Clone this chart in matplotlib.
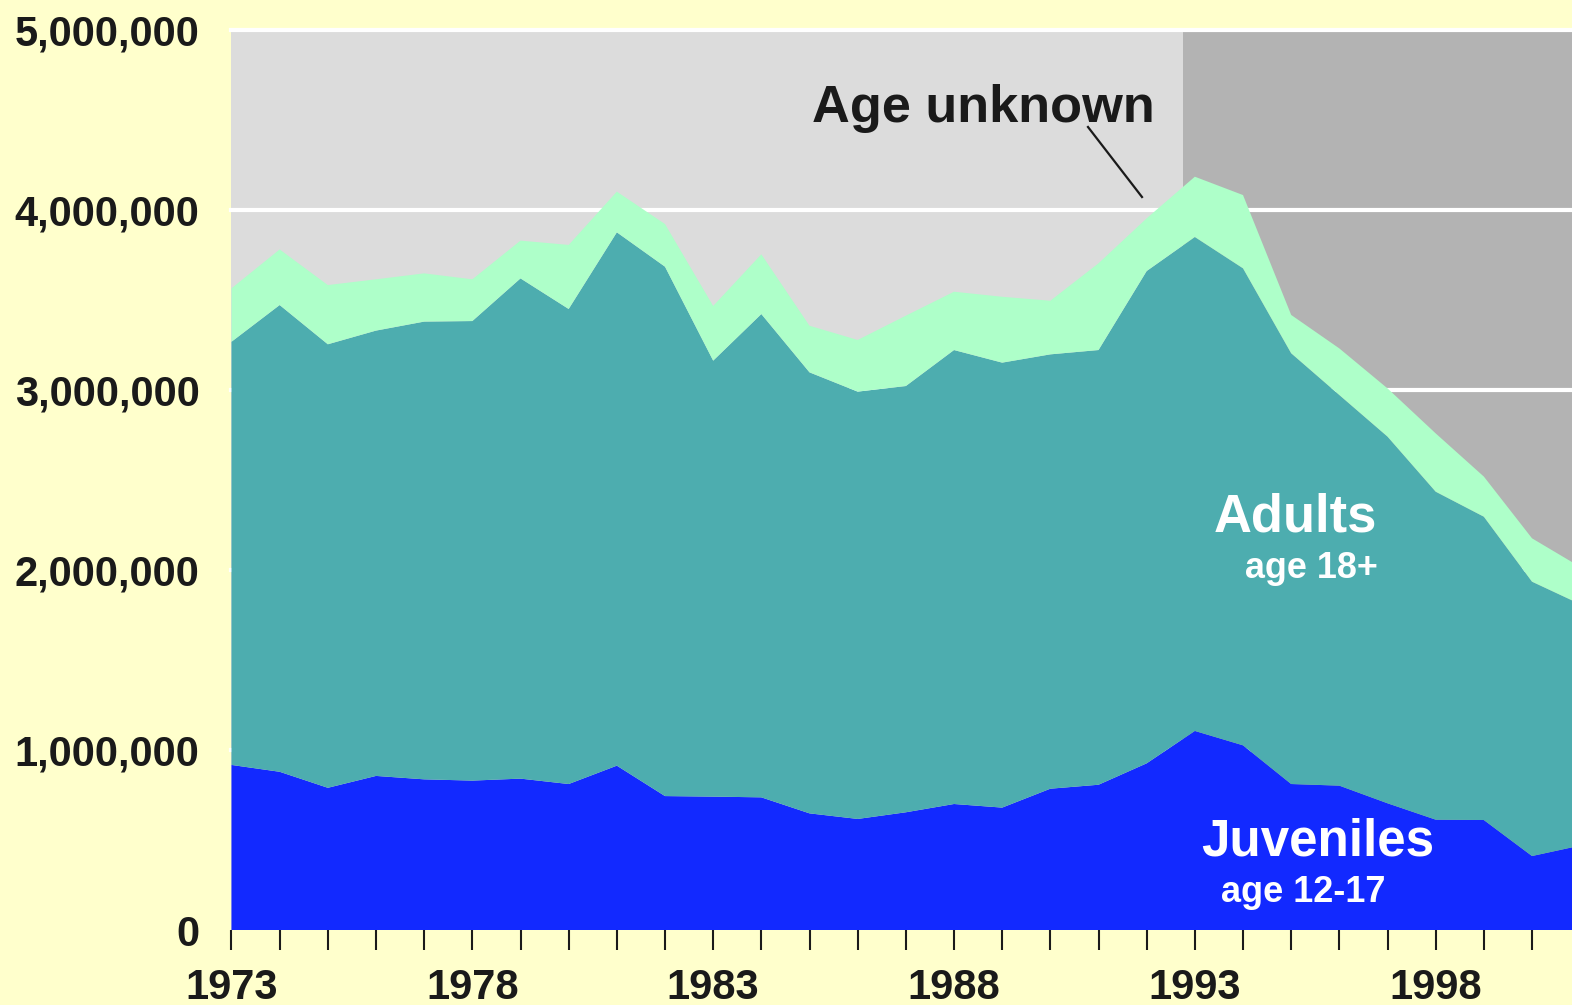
import matplotlib
matplotlib.use("Agg")
from matplotlib import pyplot as plt
from matplotlib.ticker import FuncFormatter, MultipleLocator
from matplotlib.lines import Line2D

# arrests by age group, 1973-2001
years = list(range(1973, 2002))
juveniles = [917000, 879000, 790000, 856000, 837000, 830000, 841000, 811000,
             913000, 744000, 741000, 737000, 648000, 617000, 654000, 700000,
             680000, 785000, 807000, 926000, 1106000, 1026000, 811000, 802000,
             704000, 613000, 611000, 411000, 469000]
adults = [2351000, 2593000, 2464000, 2474000, 2543000, 2553000, 2779000, 2639000,
          2963000, 2941000, 2422000, 2685000, 2450000, 2374000, 2368000, 2522000,
          2472000, 2413000, 2415000, 2735000, 2744000, 2650000, 2393000, 2170000,
          2037000, 1822000, 1685000, 1524000, 1341000]
age_unknown = [297000, 309000, 329000, 285000, 268000, 232000, 210000, 356000,
               226000, 237000, 304000, 332000, 259000, 287000, 391000, 324000,
               366000, 298000, 482000, 293000, 335000, 407000, 213000, 259000,
               268000, 324000, 223000, 241000, 207000]
y_ticks = [0, 1000000, 2000000, 3000000, 4000000, 5000000]
x_labels = [1973, 1978, 1983, 1988, 1993, 1998]

bg = '#FFFFCC'
txt = '#1a1a1a'
fnt = ['Liberation Sans', 'DejaVu Sans']

fig = plt.figure(figsize=(15.72, 10.05), dpi=100, facecolor=bg)
ax = fig.add_axes([231.5 / 1572, 75 / 1005, 1 - 231.5 / 1572, 900 / 1005])
ax.set_facecolor('#DCDCDC')
ax.set_xlim(1973, 2000.83)
ax.set_ylim(0, 5000000)

# darker shading for the later years
ax.axvspan(1992.75, 2002, color='#B3B3B3', zorder=0, lw=0)
for v in y_ticks[1:]:
    ax.axhline(v, color='white', lw=3, zorder=1, clip_on=False)

ax.stackplot(years, juveniles, adults, age_unknown,
             colors=['#1229FF', '#4DADAF', '#AEFFC9'], zorder=2, lw=0)

for s in ax.spines.values():
    s.set_visible(False)

ax.xaxis.set_major_locator(MultipleLocator(1))
ax.xaxis.set_major_formatter(FuncFormatter(
    lambda v, p: str(int(round(v))) if int(round(v)) in x_labels else ''))
ax.set_yticks(y_ticks)
ax.yaxis.set_major_formatter(FuncFormatter(lambda v, p: '{:,.0f}'.format(v)))
ax.tick_params(axis='x', direction='out', length=14.5, width=1.5, color=txt,
               pad=13, labelsize=30, labelcolor=txt)
ax.tick_params(axis='y', length=0, pad=23, labelsize=30, labelcolor=txt)
for lab in ax.get_xticklabels() + ax.get_yticklabels():
    lab.set_fontweight('bold')
    lab.set_family(fnt)

fig.text(812 / 1572, 1 - 122 / 1005, 'Age unknown', ha='left', va='baseline',
         fontsize=37.7, fontweight='bold', color=txt, family=fnt)
fig.add_artist(Line2D([1088 / 1572, 1142 / 1572], [1 - 127 / 1005, 1 - 197 / 1005],
                      color=txt, lw=1.6))
fig.text(1214 / 1572, 1 - 532 / 1005, 'Adults', ha='left', va='baseline',
         fontsize=37.8, fontweight='bold', color='white', family=fnt)
fig.text(1245 / 1572, 1 - 578 / 1005, 'age 18+', ha='left', va='baseline',
         fontsize=25.8, fontweight='bold', color='white', family=fnt)
fig.text(1201 / 1572, 1 - 855 / 1005, 'Juveniles', ha='left', va='baseline',
         fontsize=36.8, fontweight='bold', color='white', family=fnt)
fig.text(1221 / 1572, 1 - 902 / 1005, 'age 12-17', ha='left', va='baseline',
         fontsize=26, fontweight='bold', color='white', family=fnt)

plt.savefig('out.png', dpi=100, facecolor=bg)
